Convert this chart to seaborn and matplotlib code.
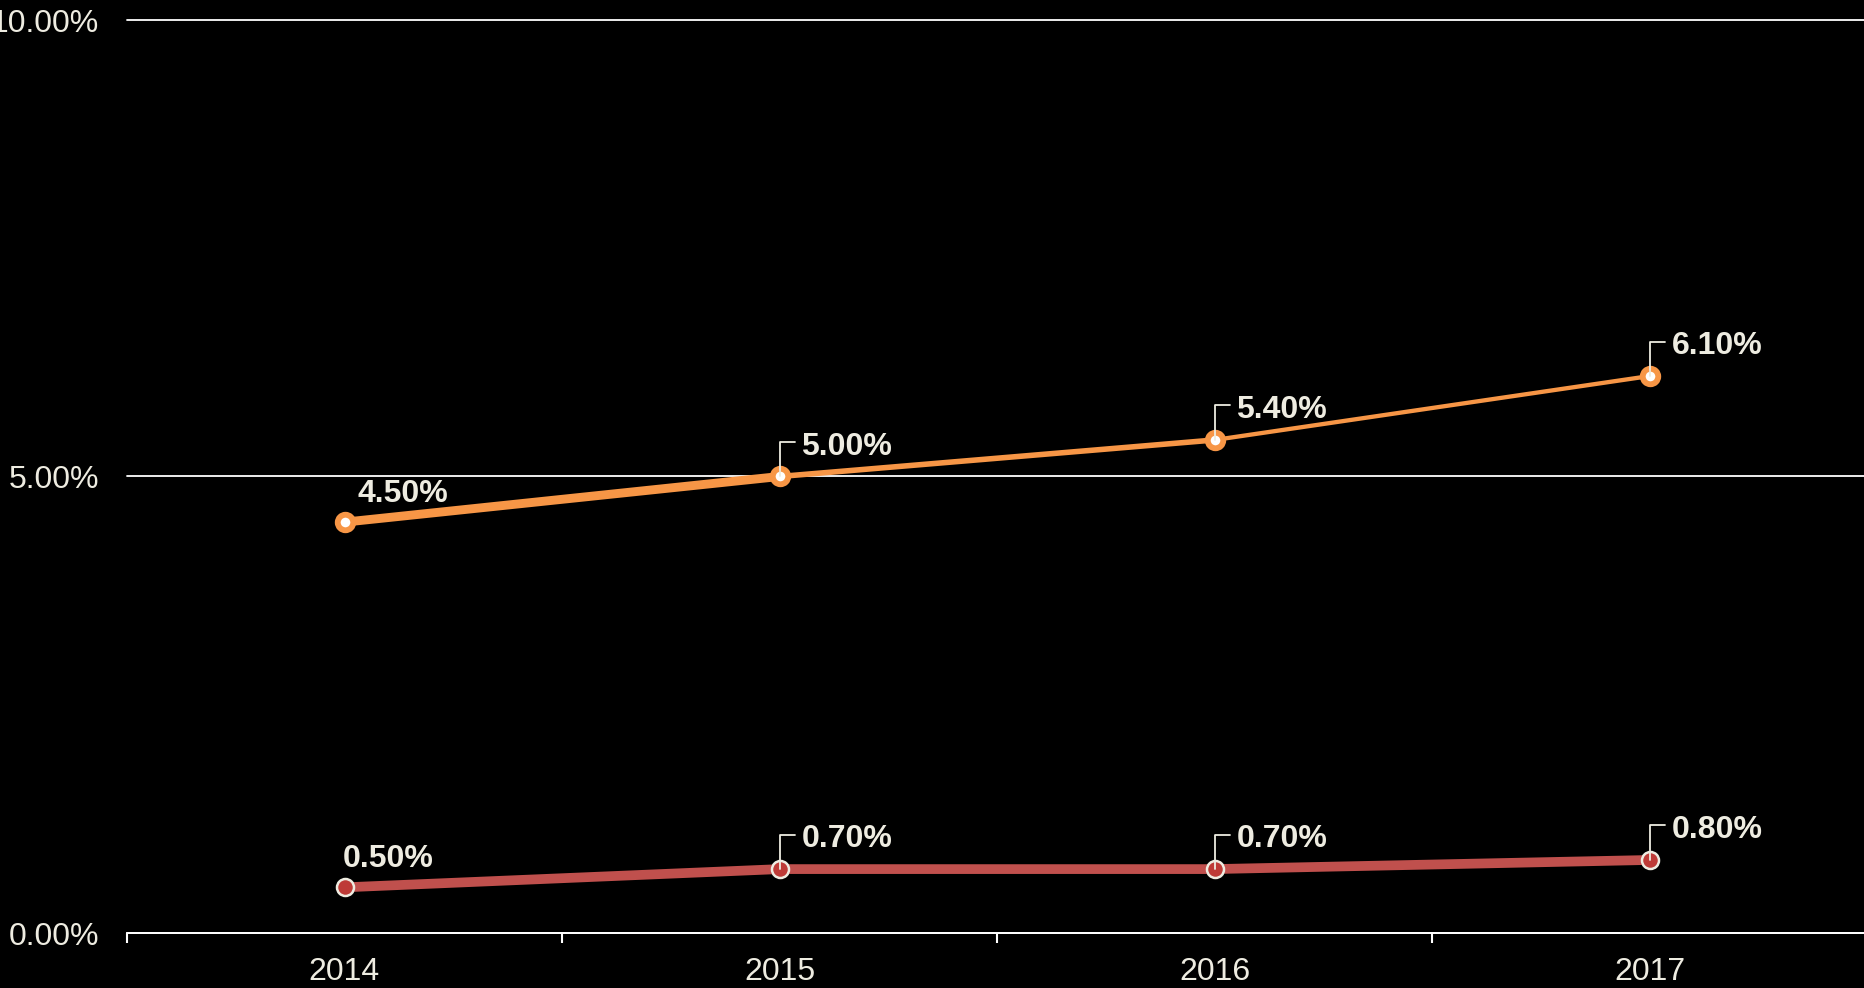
import numpy as np
import pandas as pd
import seaborn as sns
import matplotlib.pyplot as plt

# chart values
years = ['2014', '2015', '2016', '2017']
upper_rates = [4.5, 5.0, 5.4, 6.1]
lower_rates = [0.5, 0.7, 0.7, 0.8]
y_ticks = [0, 5, 10]

ORANGE = '#F79646'
RED = '#C0504D'
RED_DOT = '#BE3B37'
TXT = '#EEECE1'

sns.set_theme(style='dark')
plt.rcParams['font.family'] = ['Liberation Sans', 'DejaVu Sans']

df = pd.DataFrame({'pos': np.arange(len(years)), 'year': years,
                   'upper': upper_rates, 'lower': lower_rates})

fig = plt.figure(figsize=(18.64, 9.88), dpi=100, facecolor='black')
ax = fig.add_axes([127 / 1864, 55 / 988, 1740 / 1864, 913 / 988])
ax.set_facecolor('black')

# upper series: segments get thinner from left to right
seg_widths = [6.4, 4.0, 3.1]
for i, w in enumerate(seg_widths):
    sub = df.iloc[i:i + 2]
    sns.lineplot(data=sub, x='pos', y='upper', ax=ax, color=ORANGE, lw=w,
                 solid_capstyle='butt', zorder=2, legend=False)
sns.lineplot(data=df, x='pos', y='lower', ax=ax, color=RED, lw=7.0,
             solid_capstyle='butt', zorder=2, legend=False)

sns.scatterplot(data=df, x='pos', y='upper', ax=ax, s=125, color='white',
                edgecolor=ORANGE, linewidth=4.2, zorder=3, legend=False)
sns.scatterplot(data=df, x='pos', y='lower', ax=ax, s=150, color=RED_DOT,
                edgecolor=TXT, linewidth=1.8, zorder=3, legend=False)

# data labels
first_dx = {'upper': 13, 'lower': -2}
for col in ['upper', 'lower']:
    for i, v in enumerate(df[col]):
        label = f'{v:.2f}%'
        if i == 0:
            ax.annotate(label, (i, v), xytext=(first_dx[col], 28),
                        textcoords='offset pixels', ha='left', va='center',
                        fontsize=23, fontweight='bold', color=TXT, zorder=5)
        else:
            ax.annotate(label, (i, v), xytext=(22, 30),
                        textcoords='offset pixels', ha='left', va='center',
                        fontsize=23, fontweight='bold', color=TXT, zorder=5,
                        arrowprops=dict(arrowstyle='-', color=TXT, lw=1.3,
                                        connectionstyle='angle,angleA=0,angleB=90,rad=0',
                                        relpos=(0, 0.65), shrinkA=2, shrinkB=0))

ax.set_xlim(-0.5, len(years) - 0.5)
ax.set_ylim(0, 10)
ax.set_xticks(df['pos'])
ax.set_xticklabels(years)
ax.set_xticks(np.arange(-0.5, len(years)), minor=True)
ax.set_yticks(y_ticks)
ax.set_yticklabels([f'{t:.2f}%' for t in y_ticks])
ax.set_xlabel('')
ax.set_ylabel('')

ax.tick_params(axis='x', which='major', length=0, pad=17, labelsize=23, labelcolor=TXT)
ax.tick_params(axis='x', which='minor', length=7.2, width=1.5, color='white', direction='out', bottom=True)
ax.tick_params(axis='y', length=0, pad=20, labelsize=23, labelcolor=TXT)

ax.grid(False)
ax.yaxis.grid(True, color='white', lw=1.3)
for gl in ax.get_ygridlines():
    gl.set_clip_on(False)
for s in ['top', 'right', 'left']:
    ax.spines[s].set_visible(False)
ax.spines['bottom'].set_color('white')
ax.spines['bottom'].set_linewidth(1.3)

fig.savefig('out.png', dpi=100, facecolor='black')
plt.close()
